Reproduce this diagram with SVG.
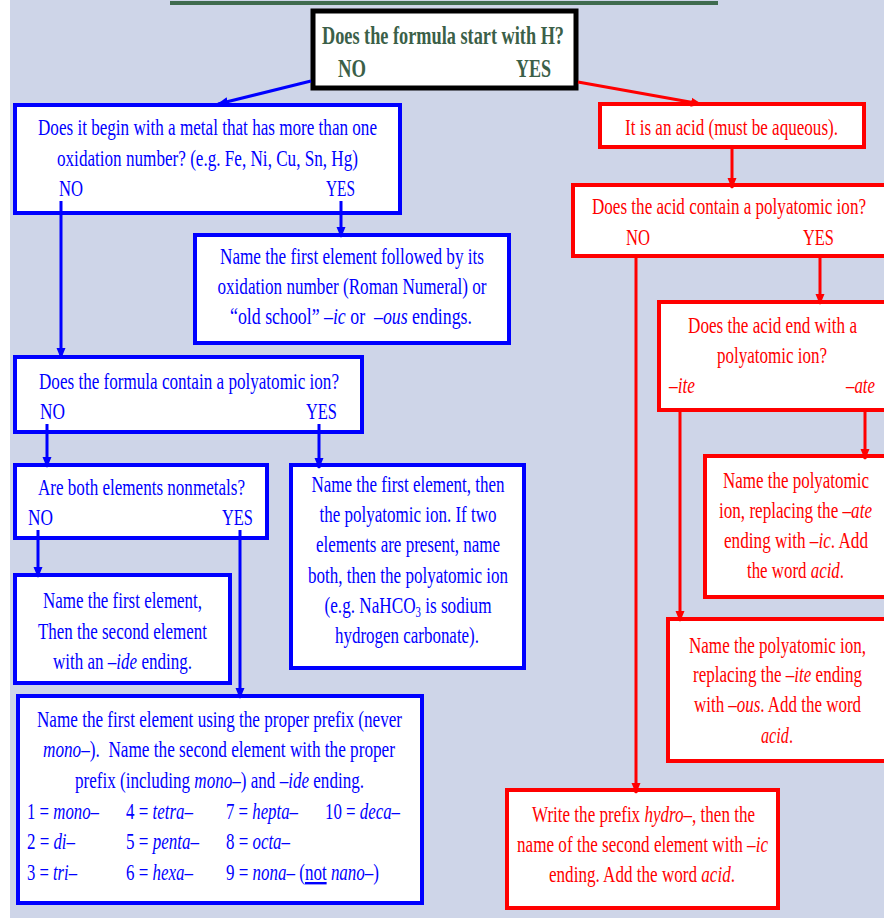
<svg xmlns="http://www.w3.org/2000/svg" width="884" height="918" viewBox="0 0 884 918">
<style>
text { font-family: "Liberation Serif", "Times New Roman", serif; font-size: 24px; }
.b { fill: #0000FF; }
.r { fill: #FF0000; }
.t { fill: #3B5F48; font-weight: bold; font-size: 25px; }
.i { font-style: italic; }
.bb { fill: #FFFFFF; stroke: #0000FF; stroke-width: 4; }
.rb { fill: #FFFFFF; stroke: #FF0000; stroke-width: 4; }
.bl { stroke: #0000FF; stroke-width: 3; fill: none; marker-end: url(#ab); }
.rl { stroke: #FF0000; stroke-width: 3; fill: none; marker-end: url(#ar); }
</style>
<defs>
<marker id="ab" markerWidth="11" markerHeight="10" refX="10" refY="5" orient="auto" markerUnits="userSpaceOnUse"><path d="M0,0.5 L11,5 L0,9.5 z" fill="#0000FF"/></marker>
<marker id="ar" markerWidth="11" markerHeight="10" refX="10" refY="5" orient="auto" markerUnits="userSpaceOnUse"><path d="M0,0.5 L11,5 L0,9.5 z" fill="#FF0000"/></marker>
</defs>
<rect x="0" y="0" width="884" height="918" fill="#CED5E8"/>
<rect x="0" y="0" width="10" height="918" fill="#FFFFFF"/>
<rect x="170" y="1" width="548" height="4" fill="#3F6B4E"/>

<g id="start">
<rect x="313" y="11" width="263" height="77" fill="#FFFFFF" stroke="#000000" stroke-width="5"/>
<text class="t" x="443" y="44" text-anchor="middle" textLength="242" lengthAdjust="spacingAndGlyphs">Does the formula start with H?</text>
<text class="t" x="338" y="77" textLength="28" lengthAdjust="spacingAndGlyphs">NO</text>
<text class="t" x="516" y="77" textLength="35" lengthAdjust="spacingAndGlyphs">YES</text>
</g>

<g id="metal">
<rect class="bb" x="15" y="105" width="385" height="108"/>
<text class="b" x="207.5" y="135" text-anchor="middle" textLength="339" lengthAdjust="spacingAndGlyphs">Does it begin with a metal that has more than one</text>
<text class="b" x="207.5" y="166" text-anchor="middle" textLength="301" lengthAdjust="spacingAndGlyphs">oxidation number? (e.g. Fe, Ni, Cu, Sn, Hg)</text>
<text class="b" x="59" y="196" textLength="24" lengthAdjust="spacingAndGlyphs">NO</text>
<text class="b" x="326" y="196" textLength="29" lengthAdjust="spacingAndGlyphs">YES</text>
</g>

<g id="roman">
<rect class="bb" x="195" y="235" width="314" height="108"/>
<text class="b" x="352" y="264" text-anchor="middle" textLength="264" lengthAdjust="spacingAndGlyphs">Name the first element followed by its</text>
<text class="b" x="352" y="294" text-anchor="middle" textLength="269" lengthAdjust="spacingAndGlyphs">oxidation number (Roman Numeral) or</text>
<text class="b" x="351" y="324" text-anchor="middle" textLength="242" lengthAdjust="spacingAndGlyphs">“old school” <tspan class="i">–ic</tspan> or &#160;<tspan class="i">–ous</tspan> endings.</text>
</g>

<g id="poly">
<rect class="bb" x="15" y="357" width="347" height="75"/>
<text class="b" x="189" y="389" text-anchor="middle" textLength="300" lengthAdjust="spacingAndGlyphs">Does the formula contain a polyatomic ion?</text>
<text class="b" x="40" y="419" textLength="25" lengthAdjust="spacingAndGlyphs">NO</text>
<text class="b" x="306" y="419" textLength="31" lengthAdjust="spacingAndGlyphs">YES</text>
</g>

<g id="nonmetals">
<rect class="bb" x="15" y="465" width="252" height="73"/>
<text class="b" x="141.5" y="495" text-anchor="middle" textLength="207" lengthAdjust="spacingAndGlyphs">Are both elements nonmetals?</text>
<text class="b" x="28" y="525" textLength="25" lengthAdjust="spacingAndGlyphs">NO</text>
<text class="b" x="222" y="525" textLength="31" lengthAdjust="spacingAndGlyphs">YES</text>
</g>

<g id="ide">
<rect class="bb" x="15" y="575" width="215" height="108"/>
<text class="b" x="122.5" y="608" text-anchor="middle" textLength="159" lengthAdjust="spacingAndGlyphs">Name the first element,</text>
<text class="b" x="122.5" y="639" text-anchor="middle" textLength="169" lengthAdjust="spacingAndGlyphs">Then the second element</text>
<text class="b" x="122.5" y="669" text-anchor="middle" textLength="139" lengthAdjust="spacingAndGlyphs">with an <tspan class="i">–ide</tspan> ending.</text>
</g>

<g id="polyname">
<rect class="bb" x="291" y="465" width="233" height="203"/>
<text class="b" x="408" y="492" text-anchor="middle" textLength="193" lengthAdjust="spacingAndGlyphs">Name the first element, then</text>
<text class="b" x="408" y="522" text-anchor="middle" textLength="177" lengthAdjust="spacingAndGlyphs">the polyatomic ion. If two</text>
<text class="b" x="408" y="552" text-anchor="middle" textLength="184" lengthAdjust="spacingAndGlyphs">elements are present, name</text>
<text class="b" x="408" y="583" text-anchor="middle" textLength="200" lengthAdjust="spacingAndGlyphs">both, then the polyatomic ion</text>
<text class="b" x="408" y="613" text-anchor="middle" textLength="167" lengthAdjust="spacingAndGlyphs">(e.g. NaHCO<tspan font-size="15" dy="4">3</tspan><tspan dy="-4"> is sodium</tspan></text>
<text class="b" x="407" y="643" text-anchor="middle" textLength="144" lengthAdjust="spacingAndGlyphs">hydrogen carbonate).</text>
</g>

<g id="prefix">
<rect class="bb" x="18" y="696" width="404" height="207"/>
<text class="b" x="219.5" y="727" text-anchor="middle" textLength="365" lengthAdjust="spacingAndGlyphs">Name the first element using the proper prefix (never</text>
<text class="b" x="219" y="757" text-anchor="middle" textLength="352" lengthAdjust="spacingAndGlyphs"><tspan class="i">mono–</tspan>). &#160;Name the second element with the proper</text>
<text class="b" x="219.5" y="788" text-anchor="middle" textLength="289" lengthAdjust="spacingAndGlyphs">prefix (including <tspan class="i">mono–</tspan>) and <tspan class="i">–ide</tspan> ending.</text>
<text class="b" x="27" y="819" textLength="72" lengthAdjust="spacingAndGlyphs">1 = <tspan class="i">mono–</tspan></text>
<text class="b" x="126" y="819" textLength="67" lengthAdjust="spacingAndGlyphs">4 = <tspan class="i">tetra–</tspan></text>
<text class="b" x="226" y="819" textLength="72" lengthAdjust="spacingAndGlyphs">7 = <tspan class="i">hepta–</tspan></text>
<text class="b" x="325" y="819" textLength="75" lengthAdjust="spacingAndGlyphs">10 = <tspan class="i">deca–</tspan></text>
<text class="b" x="27" y="849" textLength="48" lengthAdjust="spacingAndGlyphs">2 = <tspan class="i">di–</tspan></text>
<text class="b" x="126" y="849" textLength="73" lengthAdjust="spacingAndGlyphs">5 = <tspan class="i">penta–</tspan></text>
<text class="b" x="226" y="849" textLength="64" lengthAdjust="spacingAndGlyphs">8 = <tspan class="i">octa–</tspan></text>
<text class="b" x="27" y="880" textLength="50" lengthAdjust="spacingAndGlyphs">3 = <tspan class="i">tri–</tspan></text>
<text class="b" x="126" y="880" textLength="67" lengthAdjust="spacingAndGlyphs">6 = <tspan class="i">hexa–</tspan></text>
<text class="b" x="226" y="880" textLength="153" lengthAdjust="spacingAndGlyphs">9 = <tspan class="i">nona–</tspan> (<tspan text-decoration="underline">not</tspan> <tspan class="i">nano–</tspan>)</text>
</g>

<g id="acid">
<rect class="rb" x="600" y="104" width="264" height="43"/>
<text class="r" x="731.5" y="135" text-anchor="middle" textLength="213" lengthAdjust="spacingAndGlyphs">It is an acid (must be aqueous).</text>
</g>

<g id="acidpoly">
<rect class="rb" x="573" y="185" width="330" height="71"/>
<text class="r" x="729" y="214" text-anchor="middle" textLength="274" lengthAdjust="spacingAndGlyphs">Does the acid contain a polyatomic ion?</text>
<text class="r" x="626" y="245" textLength="24" lengthAdjust="spacingAndGlyphs">NO</text>
<text class="r" x="803" y="245" textLength="31" lengthAdjust="spacingAndGlyphs">YES</text>
</g>

<g id="acidend">
<rect class="rb" x="659" y="302" width="250" height="108"/>
<text class="r" x="772.5" y="333" text-anchor="middle" textLength="169" lengthAdjust="spacingAndGlyphs">Does the acid end with a</text>
<text class="r" x="772" y="363" text-anchor="middle" textLength="110" lengthAdjust="spacingAndGlyphs">polyatomic ion?</text>
<text class="r i" x="669" y="393" textLength="26" lengthAdjust="spacingAndGlyphs">–ite</text>
<text class="r i" x="846" y="393" textLength="29" lengthAdjust="spacingAndGlyphs">–ate</text>
</g>

<g id="ate">
<rect class="rb" x="705" y="456" width="200" height="141"/>
<text class="r" x="796" y="488" text-anchor="middle" textLength="146" lengthAdjust="spacingAndGlyphs">Name the polyatomic</text>
<text class="r" x="795.5" y="518" text-anchor="middle" textLength="153" lengthAdjust="spacingAndGlyphs">ion, replacing the <tspan class="i">–ate</tspan></text>
<text class="r" x="796" y="548" text-anchor="middle" textLength="144" lengthAdjust="spacingAndGlyphs">ending with <tspan class="i">–ic</tspan>. Add</text>
<text class="r" x="795.5" y="578" text-anchor="middle" textLength="97" lengthAdjust="spacingAndGlyphs">the word <tspan class="i">acid</tspan>.</text>
</g>

<g id="ite">
<rect class="rb" x="668" y="619" width="240" height="142"/>
<text class="r" x="777.5" y="653" text-anchor="middle" textLength="177" lengthAdjust="spacingAndGlyphs">Name the polyatomic ion,</text>
<text class="r" x="777.5" y="682" text-anchor="middle" textLength="169" lengthAdjust="spacingAndGlyphs">replacing the <tspan class="i">–ite</tspan> ending</text>
<text class="r" x="777.5" y="712" text-anchor="middle" textLength="167" lengthAdjust="spacingAndGlyphs">with <tspan class="i">–ous</tspan>. Add the word</text>
<text class="r i" x="777" y="743" text-anchor="middle" textLength="32" lengthAdjust="spacingAndGlyphs">acid<tspan font-style="normal">.</tspan></text>
</g>

<g id="hydro">
<rect class="rb" x="507" y="790" width="271" height="118"/>
<text class="r" x="643.5" y="822" text-anchor="middle" textLength="223" lengthAdjust="spacingAndGlyphs">Write the prefix <tspan class="i">hydro–</tspan>, then the</text>
<text class="r" x="642.5" y="852" text-anchor="middle" textLength="251" lengthAdjust="spacingAndGlyphs">name of the second element with <tspan class="i">–ic</tspan></text>
<text class="r" x="642" y="882" text-anchor="middle" textLength="186" lengthAdjust="spacingAndGlyphs">ending. Add the word <tspan class="i">acid</tspan>.</text>
</g>

<g id="connectors">
<path class="bl" d="M311,81 L218,104"/>
<path class="bl" d="M61,201 V358"/>
<path class="bl" d="M341,201 V237"/>
<path class="bl" d="M47,424 V467"/>
<path class="bl" d="M319,424 V468"/>
<path class="bl" d="M38,530 V577"/>
<path class="bl" d="M240,530 V698"/>
<path class="rl" d="M578,82 L701,104"/>
<path class="rl" d="M732,149 V188"/>
<path class="rl" d="M636,258 V793"/>
<path class="rl" d="M820,258 V304"/>
<path class="rl" d="M680,412 V621"/>
<path class="rl" d="M865,412 V459"/>
</g>
</svg>
